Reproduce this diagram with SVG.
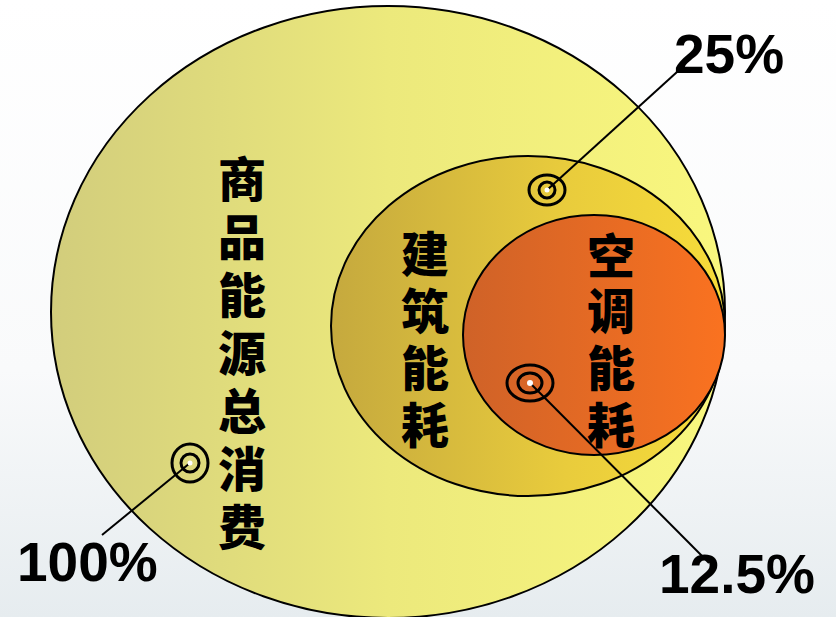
<svg xmlns="http://www.w3.org/2000/svg" width="836" height="617" viewBox="0 0 836 617">
<defs>
<linearGradient id="bg" x1="0" y1="0" x2="0" y2="1">
<stop offset="0" stop-color="#ffffff"/>
<stop offset="0.6" stop-color="#f9fafb"/>
<stop offset="1" stop-color="#e6ecef"/>
</linearGradient>
<linearGradient id="g1" x1="0" y1="0" x2="1" y2="0">
<stop offset="0" stop-color="#d2cd7c"/>
<stop offset="0.5" stop-color="#ece97c"/>
<stop offset="1" stop-color="#f9f77e"/>
</linearGradient>
<linearGradient id="g2" x1="0" y1="0" x2="1" y2="0">
<stop offset="0" stop-color="#c5a93e"/>
<stop offset="0.6" stop-color="#e9cc3c"/>
<stop offset="1" stop-color="#f7dc3a"/>
</linearGradient>
<linearGradient id="g3" x1="0" y1="0" x2="1" y2="0">
<stop offset="0" stop-color="#cf6228"/>
<stop offset="1" stop-color="#fa7220"/>
</linearGradient>
<style>
.ring{fill:none;stroke:#000;stroke-width:3}
.dot{fill:#fff;stroke:none}
.lead{stroke:#000;stroke-width:2;fill:none}
.cjk{font-family:"Noto Sans CJK SC","Noto Sans CJK JP",sans-serif;font-weight:900;font-size:48px;fill:#000;text-anchor:middle}
.pct{font-family:"Liberation Sans",Arial,sans-serif;font-weight:bold;font-size:55px;fill:#000}
.ell{stroke:#000;stroke-width:2}
</style>
</defs>
<rect width="836" height="617" fill="url(#bg)"/>
<g id="total">
<ellipse class="ell" cx="388" cy="312" rx="337" ry="306" fill="url(#g1)"/>
<text class="cjk"><tspan x="242" y="197">商</tspan><tspan x="242" y="255">品</tspan><tspan x="242" y="313">能</tspan><tspan x="242" y="371">源</tspan><tspan x="242" y="429">总</tspan><tspan x="242" y="487">消</tspan><tspan x="242" y="545">费</tspan></text>
</g>
<g id="building">
<ellipse class="ell" cx="528" cy="326" rx="197" ry="170" fill="url(#g2)"/>
<text class="cjk"><tspan x="425" y="272">建</tspan><tspan x="425" y="329">筑</tspan><tspan x="425" y="386">能</tspan><tspan x="425" y="443">耗</tspan></text>
</g>
<g id="ac">
<ellipse class="ell" cx="594" cy="335" rx="131" ry="120" fill="url(#g3)"/>
<text class="cjk"><tspan x="611" y="274">空</tspan><tspan x="611" y="329">调</tspan><tspan x="611" y="386">能</tspan><tspan x="611" y="443">耗</tspan></text>
</g>
<g id="connectors">
<line class="lead" x1="547" y1="190" x2="677" y2="72"/>
<line class="lead" x1="530" y1="383" x2="709" y2="563"/>
<line class="lead" x1="190" y1="463" x2="102" y2="535"/>
</g>
<g id="target25">
<ellipse class="ring" cx="547" cy="190" rx="18" ry="15"/>
<ellipse class="ring" cx="547" cy="190" rx="8" ry="8"/>
<circle class="dot" cx="547" cy="190" r="2.5"/>
</g>
<g id="target125">
<ellipse class="ring" cx="530" cy="383" rx="23" ry="18"/>
<ellipse class="ring" cx="530" cy="383" rx="12" ry="10"/>
<circle class="dot" cx="530" cy="383" r="3"/>
</g>
<g id="target100">
<ellipse class="ring" cx="190" cy="463" rx="18" ry="19"/>
<ellipse class="ring" cx="190" cy="463" rx="9" ry="9"/>
<circle class="dot" cx="190" cy="463" r="2.5"/>
</g>
<g id="labels">
<text class="pct" x="674" y="73">25%</text>
<text class="pct" x="17" y="581">100%</text>
<text class="pct" x="659" y="593">12.5%</text>
</g>
</svg>
